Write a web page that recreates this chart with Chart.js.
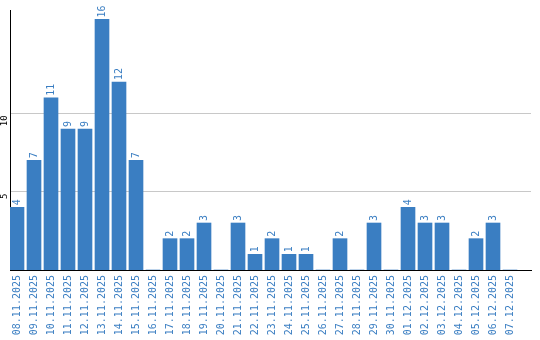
<!DOCTYPE html>
<html>
<head>
<meta charset="utf-8">
<script src="https://cdn.jsdelivr.net/npm/chart.js@4/dist/chart.umd.min.js"></script>
<style>
  html, body { margin: 0; padding: 0; background: #fff; }
  #wrap { width: 540px; height: 340px; }
</style>
</head>
<body>
<div id="wrap"><canvas id="chart"></canvas></div>
<script>
// dates on the x axis
const days = [
  '08.11.2025', '09.11.2025', '10.11.2025', '11.11.2025', '12.11.2025',
  '13.11.2025', '14.11.2025', '15.11.2025', '16.11.2025', '17.11.2025',
  '18.11.2025', '19.11.2025', '20.11.2025', '21.11.2025', '22.11.2025',
  '23.11.2025', '24.11.2025', '25.11.2025', '26.11.2025', '27.11.2025',
  '28.11.2025', '29.11.2025', '30.11.2025', '01.12.2025', '02.12.2025',
  '03.12.2025', '04.12.2025', '05.12.2025', '06.12.2025', '07.12.2025'
];
// counts per day
const counts = [4, 7, 11, 9, 9, 16, 12, 7, 0, 2, 2, 3, 0, 3, 1, 2, 1, 1, 0, 2, 0, 3, 0, 4, 3, 3, 0, 2, 3, 0];
// y axis ticks that are shown
const yTicks = [5, 10];

const blue = '#3a7ec2';
const mono = '"DejaVu Sans Mono", "Liberation Mono", monospace';

// value above every bar, rotated
const valueLabels = {
  id: 'valueLabels',
  afterDatasetsDraw(chart) {
    const ctx = chart.ctx;
    const meta = chart.getDatasetMeta(0);
    ctx.save();
    ctx.font = '10px ' + mono;
    ctx.fillStyle = blue;
    ctx.textAlign = 'left';
    ctx.textBaseline = 'middle';
    meta.data.forEach((bar, i) => {
      if (!counts[i]) return;
      ctx.save();
      ctx.translate(bar.x, bar.y - 2);
      ctx.rotate(-Math.PI / 2);
      ctx.fillText(String(counts[i]), 0, 0);
      ctx.restore();
    });
    ctx.restore();
  }
};

// rotated y tick labels
const yLabels = {
  id: 'yLabels',
  afterDraw(chart) {
    const ctx = chart.ctx;
    const y = chart.scales.y;
    ctx.save();
    ctx.font = '9px ' + mono;
    ctx.fillStyle = '#000';
    ctx.textAlign = 'right';
    ctx.textBaseline = 'middle';
    yTicks.forEach(v => {
      ctx.save();
      ctx.translate(5, y.getPixelForValue(v) + 2);
      ctx.rotate(-Math.PI / 2);
      ctx.fillText(String(v), 0, 0);
      ctx.restore();
    });
    ctx.restore();
  }
};

new Chart(document.getElementById('chart'), {
  type: 'bar',
  data: {
    datasets: [{
      data: counts.map((v, i) => ({ x: i, y: v })),
      backgroundColor: blue,
      borderWidth: 0,
      barThickness: 14
    }]
  },
  options: {
    responsive: true,
    maintainAspectRatio: false,
    animation: false,
    layout: { padding: { top: 10, right: 9, left: 0, bottom: 0 } },
    plugins: { legend: { display: false }, tooltip: { enabled: false } },
    scales: {
      x: {
        type: 'linear',
        offset: false,
        min: -7 / 17,
        max: -7 / 17 + 521 / 17,
        afterBuildTicks: s => { s.ticks = days.map((d, i) => ({ value: i })); },
        afterFit: s => { s.height = 70; },
        grid: { display: false, drawTicks: false },
        border: { display: true, color: '#000', width: 1 },
        ticks: {
          minRotation: 90,
          maxRotation: 90,
          autoSkip: false,
          padding: 5,
          color: blue,
          font: { family: mono, size: 10 },
          callback: v => days[v]
        }
      },
      y: {
        min: 0,
        max: 16.6,
        afterBuildTicks: s => { s.ticks = yTicks.map(v => ({ value: v })); },
        afterFit: s => { s.width = 10; },
        grid: { color: '#c8c8c8', lineWidth: 1, drawTicks: false },
        border: { display: true, color: '#000', width: 1 },
        ticks: { display: false }
      }
    }
  },
  plugins: [valueLabels, yLabels]
});
</script>
</body>
</html>
